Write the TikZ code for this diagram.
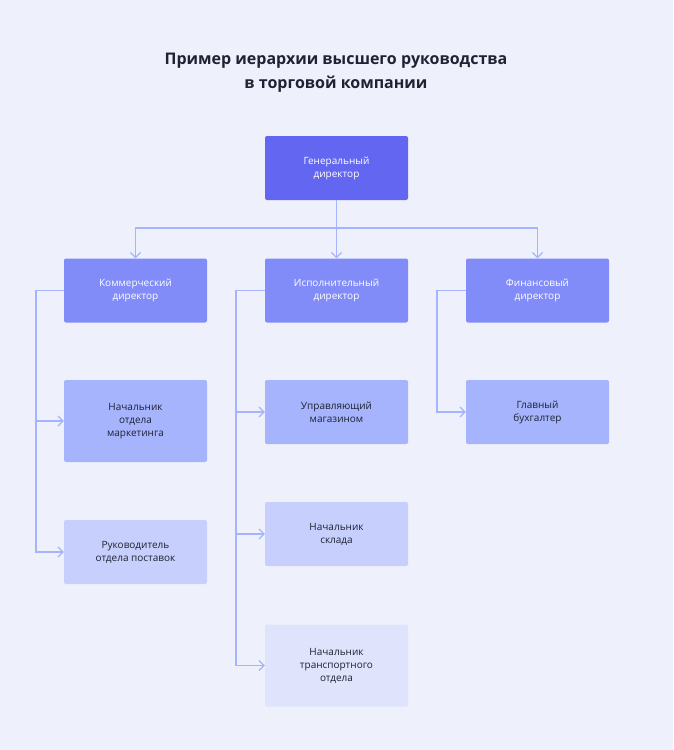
\documentclass[tikz,border=0pt]{standalone}
\usepackage{fontspec}
\setmainfont{Open Sans}
\usetikzlibrary{arrows.meta}
\definecolor{bg}{HTML}{EEF1FB}
\definecolor{topc}{HTML}{6366F1}
\definecolor{midc}{HTML}{818CF8}
\definecolor{lowc}{HTML}{A5B4FC}
\definecolor{palec}{HTML}{C7D0FC}
\definecolor{faintc}{HTML}{DFE4FC}
\definecolor{linec}{HTML}{A5B4FC}
\definecolor{ink}{HTML}{1F2233}
\tikzset{
  box/.style={rounded corners=2pt,minimum width=143pt,minimum height=64pt,align=center,font=\fontsize{10}{13}\selectfont},
  boss/.style={box,fill=topc,text=white},
  chief/.style={box,fill=midc,text=white},
  staff/.style={box,fill=lowc,text=ink},
  link/.style={draw=linec,line width=1.2pt,-{Straight Barb[length=5pt,width=10pt]}}
}
\begin{document}
\begin{tikzpicture}[x=1pt,y=-1pt]
\fill[bg] (0,0) rectangle (673,750);
\useasboundingbox (0,0) rectangle (673,750);
\node[font=\fontsize{16}{24}\selectfont\bfseries,text=ink,align=center] (title) at (336,73) {Пример иерархии высшего руководства\\в торговой компании};
\node[boss] (G) at (336.5,168) {Генеральный\\директор};
\node[chief] (K) at (135.5,290.5) {Коммерческий\\директор};
\node[chief] (I) at (336.5,290.5) {Исполнительный\\директор};
\node[chief] (F) at (537.5,290.5) {Финансовый\\директор};
\node[staff,minimum height=82pt] (M) at (135.5,421) {Начальник\\отдела\\маркетинга};
\node[staff] (U) at (336.5,412) {Управляющий\\магазином};
\node[staff] (B) at (537.5,412) {Главный\\бухгалтер};
\node[box,fill=palec,text=ink] (R) at (135.5,552) {Руководитель\\отдела поставок};
\node[box,fill=palec,text=ink] (S) at (336.5,534) {Начальник\\склада};
\node[box,fill=faintc,text=ink,minimum height=82pt] (T) at (336.5,665.5) {Начальник\\транспортного\\отдела};
% from the top
\draw[link] (G) -- (I);
\draw[link] (G.south) |- (336.5,228) -| (K.north);
\draw[link] (G.south) |- (336.5,228) -| (F.north);
% down the left sides
\draw[link] (K.west) -| (36,421) -- (M.west);
\draw[link] (K.west) -| (36,552) -- (R.west);
\draw[link] (I.west) -| (236,412) -- (U.west);
\draw[link] (I.west) -| (236,534) -- (S.west);
\draw[link] (I.west) -| (236,665.5) -- (T.west);
\draw[link] (F.west) -| (437,412) -- (B.west);
\end{tikzpicture}
\end{document}
